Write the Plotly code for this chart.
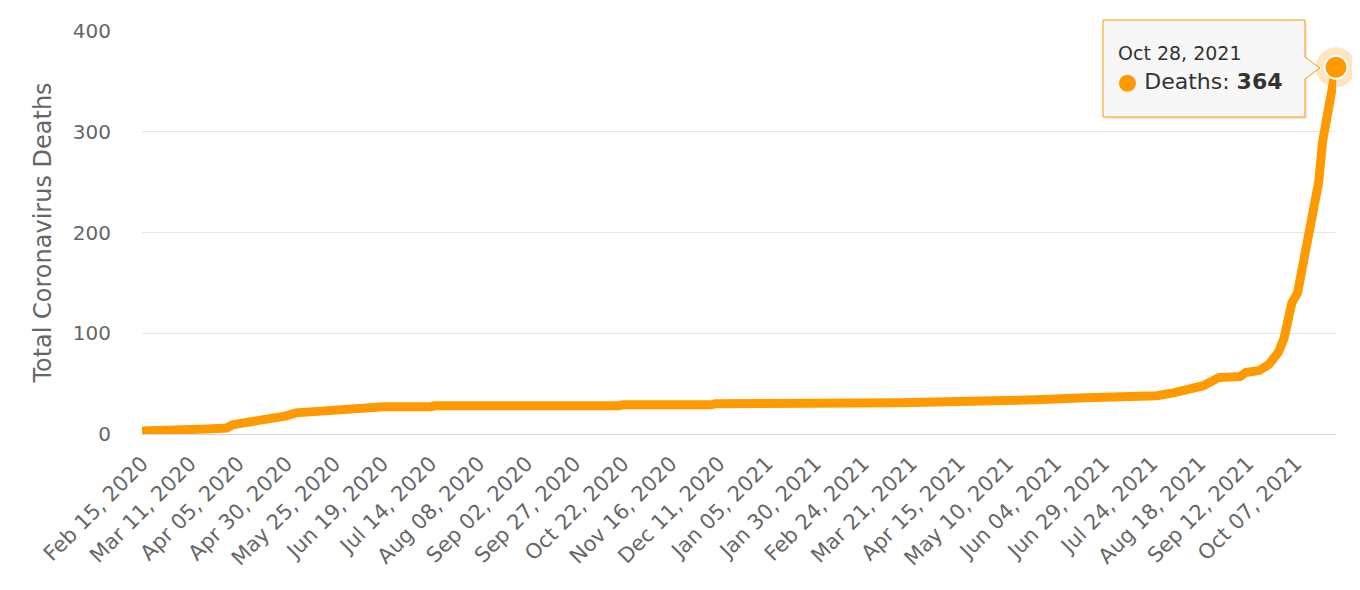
import plotly.graph_objects as go

# ---- data ----
dates = [
    "2020-02-15", "2020-03-18", "2020-03-20", "2020-03-30", "2020-04-02", "2020-04-08",
    "2020-04-14", "2020-04-25", "2020-04-30", "2020-05-05", "2020-05-12", "2020-05-25",
    "2020-06-10", "2020-06-20", "2020-07-14", "2020-07-16", "2020-10-20", "2020-10-22",
    "2020-12-07", "2020-12-09", "2021-03-15", "2021-05-05", "2021-05-25", "2021-06-20",
    "2021-07-20", "2021-07-27", "2021-08-05", "2021-08-12", "2021-08-20", "2021-08-28",
    "2021-09-08", "2021-09-11", "2021-09-18", "2021-09-23", "2021-09-28", "2021-10-01",
    "2021-10-03", "2021-10-05", "2021-10-08", "2021-10-10", "2021-10-13", "2021-10-15",
    "2021-10-17", "2021-10-19", "2021-10-21", "2021-10-23", "2021-10-26", "2021-10-28",
]
deaths = [
    3, 3, 5, 6, 9, 11,
    13, 15, 18, 21, 22, 24,
    26, 27, 27, 28, 28, 29,
    29, 30, 31, 32, 34, 36,
    37, 38, 41, 44, 48, 56,
    57, 61, 63, 69, 81, 95,
    110, 130, 140, 162, 192, 215,
    235, 250, 290, 310, 340, 364,
]

tick_dates = [
    "2020-02-15", "2020-03-11", "2020-04-05", "2020-04-30", "2020-05-25", "2020-06-19",
    "2020-07-14", "2020-08-08", "2020-09-02", "2020-09-27", "2020-10-22", "2020-11-16",
    "2020-12-11", "2021-01-05", "2021-01-30", "2021-02-24", "2021-03-21", "2021-04-15",
    "2021-05-10", "2021-06-04", "2021-06-29", "2021-07-24", "2021-08-18", "2021-09-12",
    "2021-10-07",
]
tick_labels = [
    "Feb 15, 2020", "Mar 11, 2020", "Apr 05, 2020", "Apr 30, 2020", "May 25, 2020", "Jun 19, 2020",
    "Jul 14, 2020", "Aug 08, 2020", "Sep 02, 2020", "Sep 27, 2020", "Oct 22, 2020", "Nov 16, 2020",
    "Dec 11, 2020", "Jan 05, 2021", "Jan 30, 2021", "Feb 24, 2021", "Mar 21, 2021", "Apr 15, 2021",
    "May 10, 2021", "Jun 04, 2021", "Jun 29, 2021", "Jul 24, 2021", "Aug 18, 2021", "Sep 12, 2021",
    "Oct 07, 2021",
]
y_ticks = [0, 100, 200, 300, 400]

ORANGE = "#FF9900"
FONT = "DejaVu Sans"
TXT = "#666666"

fig = go.Figure()
fig.add_trace(go.Scatter(
    x=dates, y=deaths, mode="lines",
    line=dict(color=ORANGE, width=9),
    hoverinfo="skip", showlegend=False,
))
# halo + hovered marker on the last point
fig.add_trace(go.Scatter(
    x=[dates[-1]], y=[deaths[-1]], mode="markers",
    marker=dict(size=40, color="rgba(255,153,0,0.25)"),
    cliponaxis=False, hoverinfo="skip", showlegend=False,
))
fig.add_trace(go.Scatter(
    x=[dates[-1]], y=[deaths[-1]], mode="markers",
    marker=dict(size=23, color=ORANGE, line=dict(color="white", width=2)),
    cliponaxis=False, hoverinfo="skip", showlegend=False,
))

# plot-area corners in page pixels (page body has an 8px margin)
OFF = 8
L, R, T, B = 142, 1336, 31, 434
W, H = R - L, B - T
FW, FH = 1360 - OFF, 590 - OFF


def px(x):
    return (x - L) / W


def py(y):
    return (B - y) / H


# tooltip box
bx0, bx1, by0, by1 = 1103, 1305, 20, 117
fig.add_shape(type="rect", xref="paper", yref="paper",
              x0=px(bx0 + 2), x1=px(bx1 + 2), y0=py(by1 + 2), y1=py(by0 + 2),
              line=dict(width=0), fillcolor="rgba(0,0,0,0.08)", layer="above")
fig.add_shape(type="rect", xref="paper", yref="paper",
              x0=px(bx0), x1=px(bx1), y0=py(by1), y1=py(by0),
              line=dict(color=ORANGE, width=1), fillcolor="#f7f7f7", layer="above")
# callout notch
fig.add_shape(type="path", xref="paper", yref="paper",
              path=f"M {px(bx1 - 1)},{py(57)} L {px(1320)},{py(68)} L {px(bx1 - 1)},{py(79)} Z",
              line=dict(width=0), fillcolor="#f7f7f7", layer="above")
fig.add_shape(type="path", xref="paper", yref="paper",
              path=f"M {px(bx1)},{py(57)} L {px(1320)},{py(68)} L {px(bx1)},{py(79)}",
              line=dict(color=ORANGE, width=1), layer="above")

fig.add_annotation(xref="paper", yref="paper", x=px(1116), y=py(53),
                   xanchor="left", yanchor="middle", showarrow=False,
                   text="Oct 28, 2021", font=dict(family=FONT, size=19, color="#333333"))
fig.add_annotation(xref="paper", yref="paper", x=px(1116), y=py(82),
                   xanchor="left", yanchor="middle", showarrow=False,
                   text=f"<span style='color:{ORANGE}'>●</span> Deaths: <b>{deaths[-1]}</b>",
                   font=dict(family=FONT, size=22, color="#333333"))

fig.update_layout(
    width=FW, height=FH,
    margin=dict(l=L - OFF, r=FW - (R - OFF), t=T - OFF, b=FH - (B - OFF)),
    paper_bgcolor="white", plot_bgcolor="white",
    font=dict(family=FONT, color=TXT),
    xaxis=dict(
        type="date", range=[dates[0], dates[-1]],
        tickmode="array", tickvals=tick_dates, ticktext=tick_labels,
        tickangle=-45, tickfont=dict(size=21, color=TXT),
        showgrid=False, zeroline=False,
        showline=True, linecolor="#ccd6eb", linewidth=1,
        ticks="", ticklabelstandoff=8,
    ),
    yaxis=dict(
        range=[0, 400], tickmode="array", tickvals=y_ticks,
        tickfont=dict(size=20, color=TXT),
        showgrid=True, gridcolor="#e6e6e6", gridwidth=1,
        zeroline=False, showline=False, ticks="", ticklabelstandoff=30,
        title=dict(text="Total Coronavirus Deaths", font=dict(size=24, color=TXT), standoff=14),
    ),
)

fig.write_html("out.html")
